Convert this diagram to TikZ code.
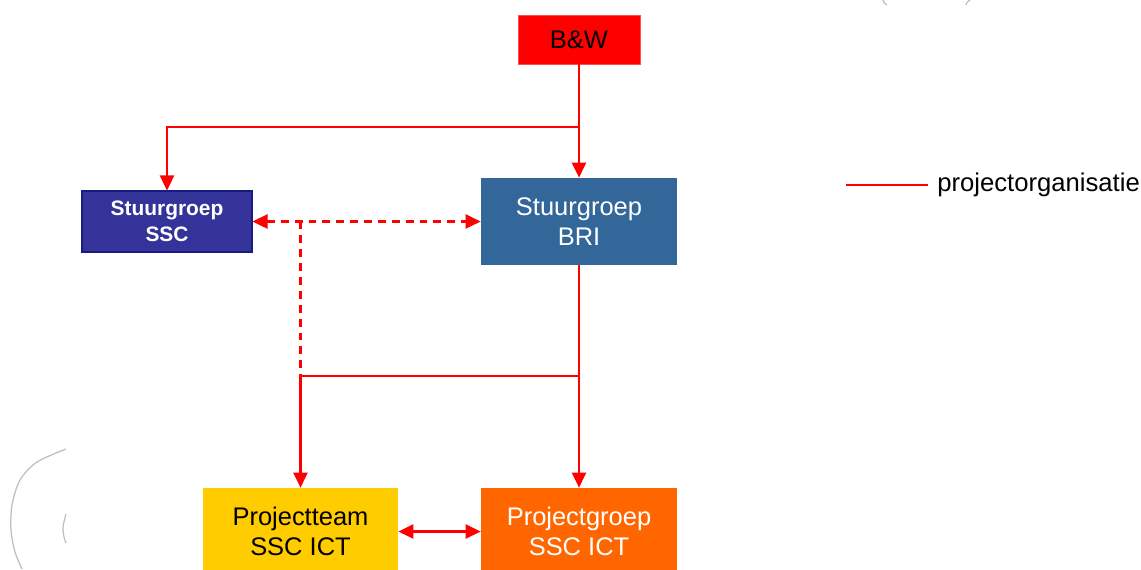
\documentclass[tikz,border=0pt]{standalone}
\usepackage{fontspec}
\setmainfont{Liberation Sans}
\usetikzlibrary{arrows.meta}

\definecolor{lnred}{HTML}{FF0000}
\definecolor{bwred}{HTML}{FF0000}
\definecolor{sscblue}{HTML}{333399}
\definecolor{sscedge}{HTML}{1A1A80}
\definecolor{briblue}{HTML}{336699}
\definecolor{teamyellow}{HTML}{FFCC00}
\definecolor{grouporange}{HTML}{FF6600}
\definecolor{decogray}{HTML}{BDBDBD}

\tikzset{
  box/.style={rectangle, inner sep=0pt, align=center, text=white,
    font=\fontsize{14.5}{17.5}\selectfont},
  tip/.tip={Triangle[length=0.3cm,width=0.28cm]},
  link/.style={draw=lnred, line width=1.4pt},
  arr/.style={link, -tip},
  darr/.style={link, tip-tip},
  dashlink/.style={link, dash pattern=on 4.5pt off 3.4pt},
  deco/.style={draw=decogray, line width=0.7pt},
}

\begin{document}
\begin{tikzpicture}[x=0.02cm, y=-0.02cm]
\useasboundingbox (0,0) rectangle (1141,569);

% organisation boxes
\node[box, fill=bwred, draw=red!70!white, line width=0.5pt, text=black,
  minimum width=2.44cm, minimum height=0.98cm] (bw) at (579,39.5) {B\&W};
\node[box, fill=sscblue, draw=sscedge, line width=0.6pt,
  font=\bfseries\fontsize{11.9}{14.7}\selectfont,
  minimum width=3.4cm, minimum height=1.22cm] (ssc) at (167,221.5) {Stuurgroep\\SSC};
\node[box, fill=briblue, minimum width=3.92cm, minimum height=1.74cm]
  (bri) at (579,221.5) {Stuurgroep\\BRI};
\node[box, fill=teamyellow, text=black, minimum width=3.9cm, minimum height=1.74cm]
  (pt) at (300.5,531.5) {Projectteam\\SSC ICT};
\node[box, fill=grouporange, minimum width=3.92cm, minimum height=1.74cm]
  (pg) at (579,531.5) {Projectgroep\\SSC ICT};

% junctions on the connector lines
\coordinate (j1) at (579,127);
\coordinate (j2) at (579,376);
\coordinate (d1) at (300.5,221.5);
\coordinate (d2) at (300.5,376);

% hierarchy lines
\draw[arr] (bw) -- (bri);
\draw[arr] (j1) -| (ssc.north);
\draw[arr] (bri) -- (pg);
\draw[arr] (j2) -| (pt.north);
\draw[darr] (pt.east) -- (pg.west);

% dashed consultation lines
\draw[dashlink, tip-tip] (ssc.east) -- (bri.west);
\draw[dashlink] (d1) -- (d2);

% legend
\coordinate (l1) at (846,185);
\coordinate (l2) at (928,185);
\draw[draw=lnred, line width=0.8pt] (l1) -- (l2);
\node[anchor=west, inner sep=0pt, font=\fontsize{14.6}{17}\selectfont]
  (leg) at (937,185) {projectorganisatie};

% faint background strokes
\draw[deco] plot[smooth] coordinates {(66,449) (37,462) (20,480) (12,505) (11,530) (15,552) (22,569)};
\draw[deco] plot[smooth] coordinates {(66,514) (63.5,524) (63,530) (64,537) (66,543)};
\draw[deco] (883,0) .. controls (884,3) .. (887,5);
\draw[deco] (970,0) .. controls (967,2) .. (966,5);
\end{tikzpicture}
\end{document}
